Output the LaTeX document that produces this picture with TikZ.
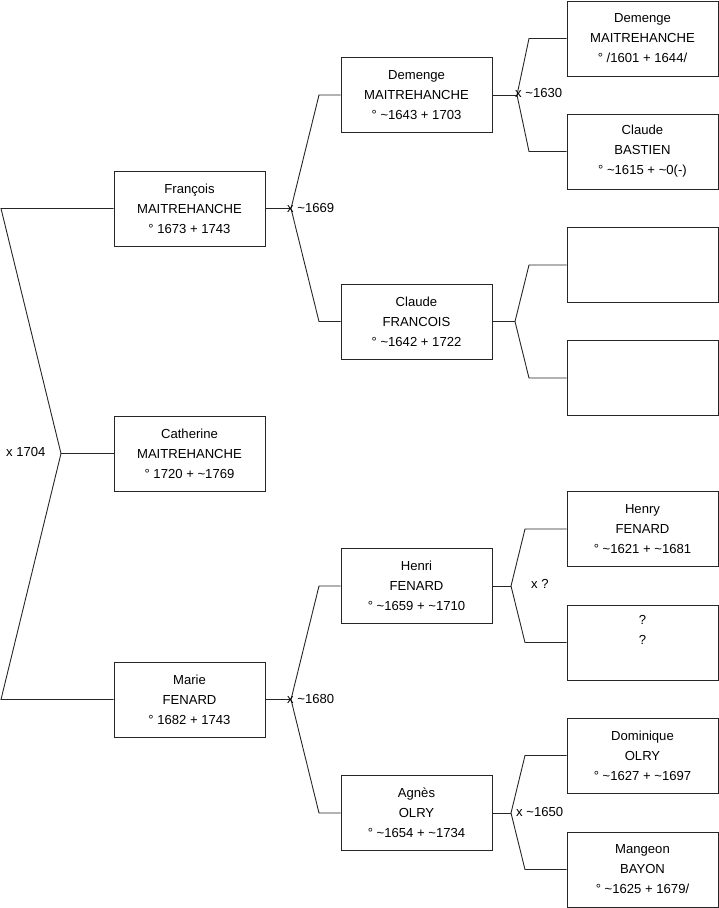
\documentclass[tikz,border=0pt]{standalone}
\usepackage{fontspec}
\setmainfont{Liberation Sans}
\newcommand{\tl}{\textasciitilde}
\begin{document}
\begin{tikzpicture}[x=1pt,y=-1pt,
  person/.style={draw=black!85,line width=0.9pt,fill=white,minimum width=151pt,minimum height=75pt,
    inner sep=0pt,align=center,font=\fontsize{13.1}{20}\selectfont},
  conn/.style={draw=black!85,line width=0.9pt},
  lbl/.style={inner sep=0pt,font=\fontsize{13.1}{15}\selectfont}]
\useasboundingbox (0,0) rectangle (719,908);
% column 1
\node[person] (fr) at (189.5,208.5) {François\\MAITREHANCHE\\° 1673 + 1743};
\node[person] (ca) at (189.5,453.5) {Catherine\\MAITREHANCHE\\° 1720 + \tl1769};
\node[person] (ma) at (189.5,699.5) {Marie\\FENARD\\° 1682 + 1743};
% column 2
\node[person] (dm) at (416.5,95) {Demenge\\MAITREHANCHE\\° \tl1643 + 1703};
\node[person] (cf) at (416.5,321.5) {Claude\\FRANCOIS\\° \tl1642 + 1722};
\node[person] (he) at (416.5,586) {Henri\\FENARD\\° \tl1659 + \tl1710};
\node[person] (ag) at (416.5,813) {Agnès\\OLRY\\° \tl1654 + \tl1734};
% column 3
\node[person] (p1) at (642.5,38.5) {Demenge\\MAITREHANCHE\\° /1601 + 1644/};
\node[person] (p2) at (642.5,151.5) {Claude\\BASTIEN\\° \tl1615 + \tl0(-)};
\node[person] (p3) at (642.5,265) {};
\node[person] (p4) at (642.5,378) {};
\node[person] (p5) at (642.5,529) {Henry\\FENARD\\° \tl1621 + \tl1681};
\node[person] (p6) at (642.5,642.5) {?\\?\\\strut};
\node[person] (p7) at (642.5,755.5) {Dominique\\OLRY\\° \tl1627 + \tl1697};
\node[person] (p8) at (642.5,869.5) {Mangeon\\BAYON\\° \tl1625 + 1679/};
% root bracket
\coordinate (r1) at (1,208.5);
\coordinate (rv) at (61,453.5);
\coordinate (r2) at (1,699.5);
\draw[conn] (fr.west) -- (r1) -- (rv) -- (r2) -- (ma.west);
\draw[conn] (rv) -- (ca.west);
\node[lbl,anchor=west] (l0) at (6,452) {x 1704};
% François
\coordinate (v1) at (291,208.5);
\coordinate (v1a) at (319,95);
\coordinate (v1b) at (319,321.5);
\draw[conn] (fr.east) -- (v1);
\draw[conn] (v1) -- (v1a) -- (dm.west);
\draw[conn] (v1) -- (v1b) -- (cf.west);
\node[lbl,anchor=west] (l1) at (287,208) {x \tl1669};
% Marie
\coordinate (v2) at (291,699.5);
\coordinate (v2a) at (319,586);
\coordinate (v2b) at (319,813);
\draw[conn] (ma.east) -- (v2);
\draw[conn] (v2) -- (v2a) -- (he.west);
\draw[conn] (v2) -- (v2b) -- (ag.west);
\node[lbl,anchor=west] (l2) at (287,699) {x \tl1680};
% Demenge
\coordinate (v3) at (517,95);
\coordinate (v3a) at (529,38.5);
\coordinate (v3b) at (529,151.5);
\draw[conn] (dm.east) -- (v3);
\draw[conn] (v3) -- (v3a) -- (p1.west);
\draw[conn] (v3) -- (v3b) -- (p2.west);
\node[lbl,anchor=west] (l3) at (515,93) {x \tl1630};
% Claude FRANCOIS
\coordinate (v4) at (515,321.5);
\coordinate (v4a) at (529,265);
\coordinate (v4b) at (529,378);
\draw[conn] (cf.east) -- (v4);
\draw[conn] (v4) -- (v4a) -- (p3.west);
\draw[conn] (v4) -- (v4b) -- (p4.west);
% Henri
\coordinate (v5) at (511,586);
\coordinate (v5a) at (525,529);
\coordinate (v5b) at (525,642.5);
\draw[conn] (he.east) -- (v5);
\draw[conn] (v5) -- (v5a) -- (p5.west);
\draw[conn] (v5) -- (v5b) -- (p6.west);
\node[lbl,anchor=west] (l5) at (531,584) {x ?};
% Agnès
\coordinate (v6) at (511,813);
\coordinate (v6a) at (525,755.5);
\coordinate (v6b) at (525,869.5);
\draw[conn] (ag.east) -- (v6);
\draw[conn] (v6) -- (v6a) -- (p7.west);
\draw[conn] (v6) -- (v6b) -- (p8.west);
\node[lbl,anchor=west] (l6) at (516,812) {x \tl1650};
\end{tikzpicture}
\end{document}
